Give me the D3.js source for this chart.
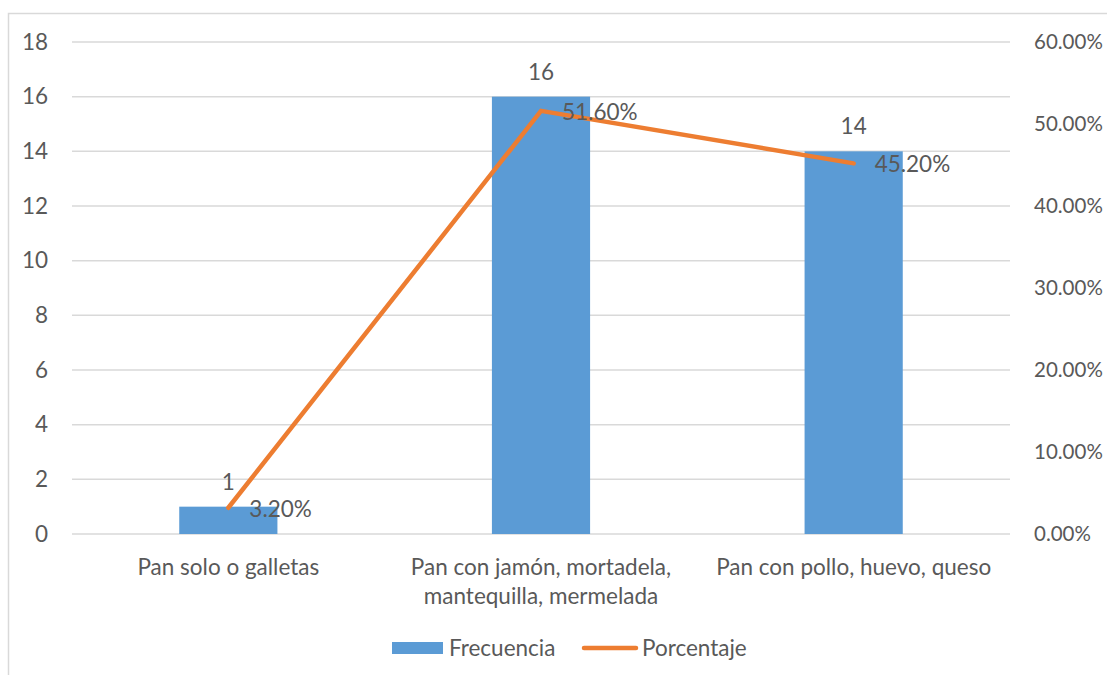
<!DOCTYPE html>
<html><head><meta charset="utf-8">
<script src="https://cdn.jsdelivr.net/npm/d3@7"></script>
<style>body{margin:0;background:#fff;}svg{display:block;font-family:"Lato","Open Sans",sans-serif;}</style>
</head><body>
<script>
const categories = [["Pan solo o galletas"], ["Pan con jamón, mortadela,", "mantequilla, mermelada"], ["Pan con pollo, huevo, queso"]];
const frecuencia = [1, 16, 14];
const porcentaje = [0.032, 0.516, 0.452];
const leftTicks = [0, 2, 4, 6, 8, 10, 12, 14, 16, 18];
const rightTicks = [0, 0.1, 0.2, 0.3, 0.4, 0.5, 0.6];
const seriesNames = ["Frecuencia", "Porcentaje"];

(function () {
const W = 1107, H = 675;
const svg = d3.select("body").append("svg").attr("width", W).attr("height", H);
const textColor = "#595959", grid = "#D9D9D9", blue = "#5B9BD5", orange = "#ED7D31";
const fs = 22.5, fsR = 20.5;

svg.append("rect").attr("x", 8.5).attr("y", 13.5).attr("width", W + 20).attr("height", H + 20)
  .attr("fill", "none").attr("stroke", grid).attr("stroke-width", 1.5);

const pLeft = 72, pRight = 1010, pTop = 42, pBottom = 534;
const x = d3.scaleBand().domain(d3.range(categories.length)).range([pLeft, pRight]).paddingInner(0).paddingOuter(0);
const yL = d3.scaleLinear().domain([0, 18]).range([pBottom, pTop]);
const yR = d3.scaleLinear().domain([0, 0.6]).range([pBottom, pTop]);

svg.append("g").selectAll("line").data(leftTicks).join("line")
  .attr("x1", pLeft).attr("x2", pRight).attr("y1", d => yL(d)).attr("y2", d => yL(d))
  .attr("stroke", grid).attr("stroke-width", 1.5);

const gl = svg.append("g").attr("transform", `translate(${pLeft},0)`)
  .call(d3.axisLeft(yL).tickValues(leftTicks).tickSize(0).tickPadding(24).tickFormat(d3.format("d")));
gl.select(".domain").remove();
gl.selectAll("text").attr("fill", textColor).style("font-size", fs + "px");

const gr = svg.append("g").attr("transform", `translate(${pRight},0)`)
  .call(d3.axisRight(yR).tickValues(rightTicks).tickSize(0).tickPadding(24).tickFormat(d3.format(".2%")));
gr.select(".domain").remove();
gr.selectAll("text").attr("fill", textColor).style("font-size", fsR + "px");
gl.attr("font-family", null); gr.attr("font-family", null);

const bw = x.bandwidth() * 0.314;
const cx = i => x(i) + x.bandwidth() / 2;
svg.append("g").selectAll("rect").data(frecuencia).join("rect")
  .attr("x", (d, i) => cx(i) - bw / 2)
  .attr("width", bw)
  .attr("y", d => yL(d)).attr("height", d => pBottom - yL(d))
  .attr("fill", blue);

svg.append("path").datum(porcentaje)
  .attr("d", d3.line().x((d, i) => cx(i)).y(d => yR(d)))
  .attr("fill", "none").attr("stroke", orange).attr("stroke-width", 4.5).attr("stroke-linejoin", "round").attr("stroke-linecap", "round");

svg.append("g").selectAll("text").data(frecuencia).join("text")
  .attr("x", (d, i) => cx(i)).attr("y", d => yL(d) - 25).attr("dy", "0.35em")
  .attr("text-anchor", "middle").attr("fill", textColor).style("font-size", fs + "px")
  .text(d => d);

svg.append("g").selectAll("text").data(porcentaje).join("text")
  .attr("x", (d, i) => cx(i) + 21).attr("y", d => yR(d) + 1).attr("dy", "0.35em")
  .attr("fill", textColor).style("font-size", fs + "px")
  .text(d => d3.format(".2%")(d));

const xl = svg.append("g").selectAll("text").data(categories).join("text")
  .attr("x", (d, i) => cx(i)).attr("y", 567)
  .attr("text-anchor", "middle").attr("fill", textColor).style("font-size", fs + "px");
xl.each(function (d) {
  const t = d3.select(this);
  d.forEach((line, j) => t.append("tspan").attr("x", t.attr("x")).attr("dy", j === 0 ? "0.35em" : "29px").text(line));
});

const lg = svg.append("g");
lg.append("rect").attr("x", 392).attr("y", 642).attr("width", 51).attr("height", 12).attr("fill", blue);
lg.append("text").attr("x", 449).attr("y", 648).attr("dy", "0.35em").attr("fill", textColor).style("font-size", fs + "px").text(seriesNames[0]);
lg.append("line").attr("x1", 584).attr("x2", 636).attr("y1", 648).attr("y2", 648)
  .attr("stroke", orange).attr("stroke-width", 4.5).attr("stroke-linecap", "round");
lg.append("text").attr("x", 642).attr("y", 648).attr("dy", "0.35em").attr("fill", textColor).style("font-size", fs + "px").text(seriesNames[1]);
})();
</script>
</body></html>
